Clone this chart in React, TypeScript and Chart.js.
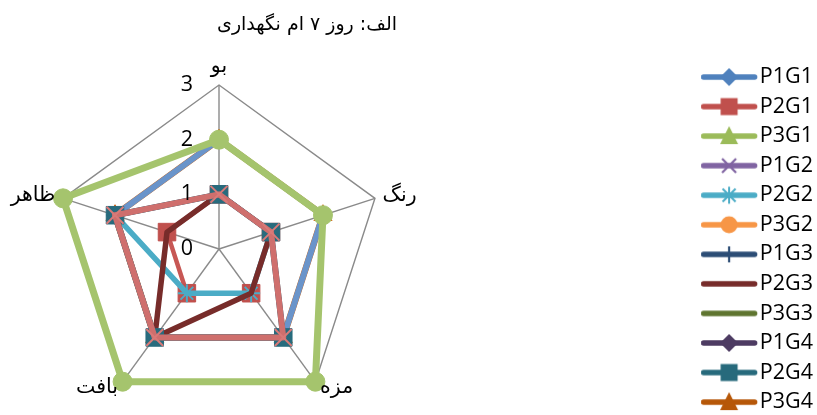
import React, { useEffect, useRef } from 'react';
import { Chart, registerables } from 'chart.js';

Chart.register(...registerables);

// ---------- data ----------
const chartTitle = 'الف: روز ۷ ام نگهداری';
const categories = ['بو', 'رنگ', 'مزه', 'بافت', 'ظاهر'];
const seriesNames = ['P1G1', 'P2G1', 'P3G1', 'P1G2', 'P2G2', 'P3G2', 'P1G3', 'P2G3', 'P3G3', 'P1G4', 'P2G4', 'P3G4'];
const p1g1 = [2, 2, 2, 2, 2];
const p2g1 = [1, 1, 1, 1, 1];
const p3g1 = [2, 2, 3, 3, 3];
const p1g2 = [1, 1, 2, 2, 2];
const p2g2 = [1, 1, 1, 1, 2];
const p3g2 = [2, 2, 2, 2, 2];
const p1g3 = [1, 1, 2, 2, 2];
const p2g3 = [1, 1, 1, 2, 1];
const p3g3 = [2, 2, 3, 3, 3];
const p1g4 = [1, 1, 2, 2, 2];
const p2g4 = [1, 1, 2, 2, 2];
const p3g4 = [2, 2, 2, 2, 2];
const seriesValues = [p1g1, p2g1, p3g1, p1g2, p2g2, p3g2, p1g3, p2g3, p3g3, p1g4, p2g4, p3g4];
const scaleMin = 0;
const scaleMax = 3;
const scaleStep = 1;

// ---------- styles ----------
type Marker = 'diamond' | 'square' | 'triangle' | 'x' | 'star' | 'circle' | 'plus' | 'none';
interface Style {
  legendColor: string;
  legendMarker: Marker;
  lineColor: string;
  lineWidth: number;
  pointStyle: any;
  pointRadius: number;
  pointColor: string;
  pointBorderWidth: number;
  order: number;
}
const styles: Style[] = [
  { legendColor: '#4F81BD', legendMarker: 'diamond', lineColor: '#6A94CA', lineWidth: 6, pointStyle: 'rectRot', pointRadius: 7, pointColor: '#4F81BD', pointBorderWidth: 1, order: 6 },
  { legendColor: '#C0504D', legendMarker: 'square', lineColor: '#C75754', lineWidth: 4.5, pointStyle: 'rect', pointRadius: 12.4, pointColor: '#C0504D', pointBorderWidth: 1, order: 5 },
  { legendColor: '#9BBB59', legendMarker: 'triangle', lineColor: '#A5C46D', lineWidth: 7, pointStyle: 'circle', pointRadius: 9.5, pointColor: '#A5C46D', pointBorderWidth: 1, order: 1 },
  { legendColor: '#8064A2', legendMarker: 'x', lineColor: '#CF6F6D', lineWidth: 6, pointStyle: 'crossRot', pointRadius: 12, pointColor: '#D97A78', pointBorderWidth: 2, order: 0 },
  { legendColor: '#4BACC6', legendMarker: 'star', lineColor: '#4BACC6', lineWidth: 5.5, pointStyle: 'star', pointRadius: 9, pointColor: '#4BACC6', pointBorderWidth: 2, order: 4 },
  { legendColor: '#F79646', legendMarker: 'circle', lineColor: '#F79646', lineWidth: 5, pointStyle: 'circle', pointRadius: 6, pointColor: '#F79646', pointBorderWidth: 1, order: 8 },
  { legendColor: '#2C4D75', legendMarker: 'plus', lineColor: '#2C4D75', lineWidth: 5, pointStyle: 'cross', pointRadius: 6, pointColor: '#2C4D75', pointBorderWidth: 2, order: 9 },
  { legendColor: '#772C2A', legendMarker: 'none', lineColor: '#772C2A', lineWidth: 5.5, pointStyle: 'circle', pointRadius: 0, pointColor: '#772C2A', pointBorderWidth: 0, order: 3 },
  { legendColor: '#5F7530', legendMarker: 'none', lineColor: '#5F7530', lineWidth: 4, pointStyle: 'circle', pointRadius: 0, pointColor: '#5F7530', pointBorderWidth: 0, order: 10 },
  { legendColor: '#4D3B62', legendMarker: 'diamond', lineColor: '#4D3B62', lineWidth: 5, pointStyle: 'rectRot', pointRadius: 6, pointColor: '#4D3B62', pointBorderWidth: 1, order: 11 },
  { legendColor: '#276A7C', legendMarker: 'square', lineColor: '#286B7D', lineWidth: 6, pointStyle: 'rect', pointRadius: 12.4, pointColor: '#286B7D', pointBorderWidth: 1, order: 2 },
  { legendColor: '#B65708', legendMarker: 'triangle', lineColor: '#D2691A', lineWidth: 6.5, pointStyle: 'triangle', pointRadius: 10.5, pointColor: '#D2691A', pointBorderWidth: 1, order: 7 },
];

// plot geometry (pixels)
const RADAR_CX = 219;
const RADAR_CY = 249;
const RADAR_R = 164;
const TITLE_X = 307;
const TITLE_Y = 25;

function makeLegendImage(st: Style): HTMLCanvasElement {
  const c = document.createElement('canvas');
  c.width = 58;
  c.height = 24;
  const g = c.getContext('2d')!;
  const cx = 29;
  const cy = 12;
  g.strokeStyle = st.legendColor;
  g.fillStyle = st.legendColor;
  g.lineCap = 'round';
  g.lineWidth = 5.5;
  g.beginPath();
  g.moveTo(3.5, cy);
  g.lineTo(54.5, cy);
  g.stroke();
  g.lineCap = 'butt';
  switch (st.legendMarker) {
    case 'diamond':
      g.beginPath();
      g.moveTo(cx, cy - 9);
      g.lineTo(cx + 9, cy);
      g.lineTo(cx, cy + 9);
      g.lineTo(cx - 9, cy);
      g.closePath();
      g.fill();
      break;
    case 'square':
      g.fillRect(cx - 8.5, cy - 8.5, 17, 17);
      break;
    case 'triangle':
      g.beginPath();
      g.moveTo(cx, cy - 10);
      g.lineTo(cx + 9, cy + 8);
      g.lineTo(cx - 9, cy + 8);
      g.closePath();
      g.fill();
      break;
    case 'circle':
      g.beginPath();
      g.arc(cx, cy, 8.5, 0, Math.PI * 2);
      g.fill();
      break;
    case 'x':
      g.lineWidth = 2.2;
      g.beginPath();
      g.moveTo(cx - 7, cy - 7);
      g.lineTo(cx + 7, cy + 7);
      g.moveTo(cx + 7, cy - 7);
      g.lineTo(cx - 7, cy + 7);
      g.stroke();
      break;
    case 'star':
      g.lineWidth = 2;
      g.beginPath();
      g.moveTo(cx - 6.5, cy - 6.5);
      g.lineTo(cx + 6.5, cy + 6.5);
      g.moveTo(cx + 6.5, cy - 6.5);
      g.lineTo(cx - 6.5, cy + 6.5);
      g.moveTo(cx, cy - 8.5);
      g.lineTo(cx, cy + 8.5);
      g.stroke();
      break;
    case 'plus':
      g.lineWidth = 2.2;
      g.beginPath();
      g.moveTo(cx, cy - 8);
      g.lineTo(cx, cy + 8);
      g.stroke();
      break;
    default:
      break;
  }
  return c;
}

const geometryPlugin = {
  id: 'radarGeometry',
  afterLayout(chart: any) {
    const s = chart.scales.r;
    s.xCenter = RADAR_CX;
    s.yCenter = RADAR_CY;
    s.drawingArea = RADAR_R;
  },
};

const textPlugin = {
  id: 'radarText',
  afterDraw(chart: any) {
    const s = chart.scales.r;
    const ctx: CanvasRenderingContext2D = chart.ctx;
    ctx.save();
    ctx.fillStyle = '#000';
    // tick labels
    ctx.font = '21.5px "Open Sans"';
    ctx.textAlign = 'right';
    ctx.textBaseline = 'middle';
    s.ticks.forEach((t: any) => {
      const d = s.getDistanceFromCenterForValue(t.value);
      ctx.fillText(t.label != null ? String(t.label) : String(t.value), s.xCenter - 26, s.yCenter - d);
    });
    // point labels
    ctx.font = '20.5px "DejaVu Sans"';
    (ctx as any).direction = 'rtl';
    categories.forEach((lab, i) => {
      const p = s.getPointPosition(i, s.drawingArea + 8);
      const dx = p.x - s.xCenter;
      ctx.textAlign = Math.abs(dx) < 2 ? 'center' : dx > 0 ? 'left' : 'right';
      ctx.textBaseline = Math.abs(dx) < 2 ? 'bottom' : 'middle';
      ctx.fillText(lab, p.x, p.y);
    });
    // title
    ctx.font = '19px "DejaVu Sans"';
    ctx.textAlign = 'center';
    ctx.textBaseline = 'middle';
    ctx.fillText(chartTitle, TITLE_X, TITLE_Y);
    ctx.restore();
  },
};

export default function App() {
  const ref = useRef<HTMLCanvasElement>(null);
  useEffect(() => {
    const canvas = ref.current;
    if (!canvas) return;
    const legendImages = styles.map(makeLegendImage);
    const chart = new Chart(canvas, {
      type: 'radar',
      data: {
        labels: categories,
        datasets: seriesNames.map((name, i) => {
          const st = styles[i];
          return {
            label: name,
            data: seriesValues[i],
            order: st.order,
            borderColor: st.lineColor,
            backgroundColor: st.lineColor,
            borderWidth: st.lineWidth,
            borderJoinStyle: 'round',
            borderCapStyle: 'round',
            fill: false,
            tension: 0,
            clip: false,
            pointStyle: st.pointStyle,
            pointRadius: st.pointRadius,
            pointHoverRadius: st.pointRadius,
            pointBackgroundColor: st.pointColor,
            pointBorderColor: st.pointColor,
            pointBorderWidth: st.pointBorderWidth,
          } as any;
        }),
      },
      options: {
        responsive: false,
        animation: false,
        devicePixelRatio: 1,
        layout: { padding: { top: 56.1, bottom: -8, right: -6, left: 0 } },
        scales: {
          r: {
            min: scaleMin,
            max: scaleMax,
            ticks: { display: false, stepSize: scaleStep },
            pointLabels: { display: false },
            grid: { color: '#8A8A8A', lineWidth: 1.4 },
            angleLines: { color: '#8A8A8A', lineWidth: 1.4 },
          },
        },
        plugins: {
          title: { display: false },
          tooltip: { enabled: false },
          legend: {
            position: 'right',
            align: 'center',
            labels: {
              usePointStyle: true,
              pointStyleWidth: 40,
              padding: 8.05,
              color: '#000',
              font: { family: 'Open Sans', size: 21.5 },
              generateLabels: (ch: any) => {
                const items = (Chart.defaults.plugins.legend.labels as any).generateLabels(ch);
                return items
                  .sort((a: any, b: any) => a.datasetIndex - b.datasetIndex)
                  .map((it: any) => ({ ...it, pointStyle: legendImages[it.datasetIndex], fontColor: '#000' }));
              },
            },
          },
        },
      } as any,
      plugins: [geometryPlugin, textPlugin],
    });
    return () => chart.destroy();
  }, []);
  return (
    <div style={{ position: 'absolute', left: 0, top: 0, width: 817, height: 415, background: '#fff' }}>
      <canvas ref={ref} width={817} height={415} style={{ display: 'block' }} />
    </div>
  );
}
